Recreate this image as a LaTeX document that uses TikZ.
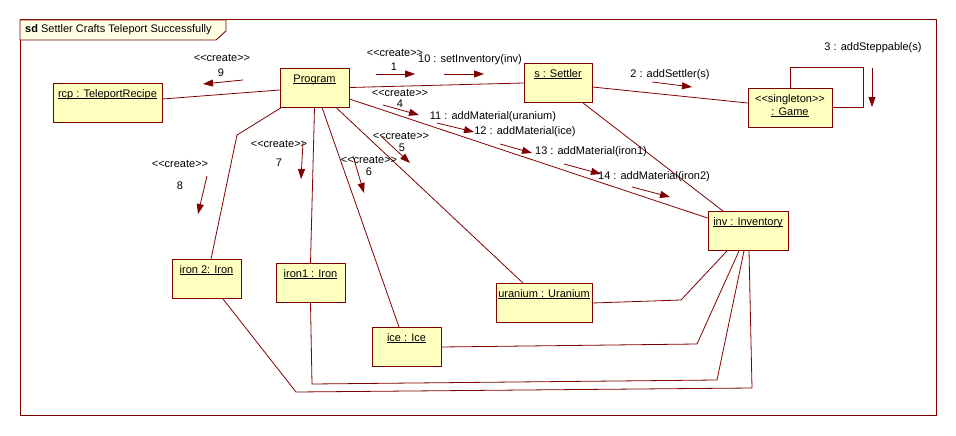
\documentclass[tikz,border=0pt]{standalone}
\usepackage{fontspec}
\setmainfont{Liberation Sans}
\usetikzlibrary{arrows.meta}
\definecolor{umlred}{RGB}{128,0,0}
\definecolor{umlfill}{RGB}{255,255,192}
\definecolor{tabfill}{RGB}{255,255,228}
\newcommand{\objname}[1]{\setbox0\hbox{#1}\rlap{#1}\rule[-1.6pt]{\wd0}{0.7pt}}
\newcommand{\stereo}[1]{{<}{<}#1{>}{>}}

\begin{document}
\begin{tikzpicture}[x=1pt, y=-1pt, font=\fontsize{11}{13}\selectfont,
  obj/.style={draw=umlred, fill=umlfill, line width=0.9pt, minimum height=39pt, inner sep=0pt, text height=14pt, text depth=25pt, align=center},
  link/.style={draw=umlred, line width=0.8pt},
  msg/.style={draw=umlred, line width=0.8pt, -{Triangle[length=10pt, width=7pt]}},
  lbl/.style={inner sep=0pt}]
\useasboundingbox (0,0) rectangle (956,436);
% frame
\draw[umlred, line width=1pt] (20,20) rectangle (936,415);
\draw[umlred, fill=tabfill, line width=0.9pt] (20,20) -- (226,20) -- (226,31) -- (216,40) -- (20,40) -- cycle;
\node[lbl, anchor=west] (title) at (25,30) {\textbf{sd} Settler Crafts Teleport Successfully};

% objects
\node[obj, minimum width=109pt] (rcp) at (107.5,103) {\objname{rcp : TeleportRecipe}};
\node[obj, minimum width=69pt] (prog) at (314.5,87.5) {\objname{Program}};
\node[obj, minimum width=68pt] (settler) at (558,83) {\objname{s : Settler}};
\node[obj, minimum width=84pt, text height=27pt, text depth=12pt] (game) at (790,107.5) {\stereo{singleton}\\\objname{: Game}};
\node[obj, minimum width=80pt] (inv) at (748,231) {\objname{inv : Inventory}};
\node[obj, minimum width=96pt] (uranium) at (544,303) {\objname{uranium : Uranium}};
\node[obj, minimum width=69pt] (ice) at (406.5,347) {\objname{ice : Ice}};
\node[obj, minimum width=69pt] (iron1) at (310.5,283) {\objname{iron1 : Iron}};
\node[obj, minimum width=69pt] (iron2) at (206.5,279) {\objname{iron 2: Iron}};

% links
\draw[link] ([yshift=4pt]rcp.east) -- ([yshift=-2.5pt]prog.west);
\draw[link] (prog.east) -- (settler.west);
\draw[link] ([yshift=-4pt]settler.east) -- ([yshift=4.5pt]game.west);
\draw[link] (game.north) -- ++(0,-20) -- ++(73,0) |- (game.east);
\draw[link] ([xshift=25pt]settler.south) -- ([xshift=-25pt]inv.north);
\draw[link] ([yshift=-11.5pt]prog.east) -- ([yshift=13pt]inv.west);
\draw[link] ([xshift=21.5pt]prog.south) -- ([xshift=-21pt]uranium.north);
\draw[link] ([xshift=7.5pt]prog.south) -- ([xshift=-7.5pt]ice.north);
\draw[link] (prog.south) -- (iron1.north);
\draw[link] ([xshift=2pt]prog.south west) -- (237,135) -- ([xshift=4.5pt]iron2.north);
\draw[link] (uranium.east) -- (681,300) -- ([xshift=-21pt]inv.south);
\draw[link] (ice.east) -- (697,344) -- ([xshift=-9pt]inv.south);
\draw[link] (iron1.south) -- (312,384) -- (717,380) -- ([xshift=-4pt]inv.south);
\draw[link] ([xshift=16.5pt]iron2.south) -- (296,392) -- (752,388) -- ([xshift=1pt]inv.south);

% messages
\node[lbl] (cr1) at (395,53) {\stereo{create}};
\node[lbl] (n1) at (394,67) {1};
\draw[msg] (376,74) -- (415,74);
\node[lbl] (m10) at (470,60) {10 : setInventory(inv)};
\draw[msg] (444,74) -- (484,74);
\node[lbl] (m2) at (670,75) {2 : addSettler(s)};
\draw[msg] (652,82) -- (692,87);
\node[lbl] (m3) at (873,48) {3 : addSteppable(s)};
\draw[msg] (872,68) -- (872,107);
\node[lbl] (cr4) at (400,93) {\stereo{create}};
\node[lbl] (n4) at (400,104) {4};
\draw[msg] (383,105) -- (419,115);
\node[lbl] (m11) at (493,117) {11 : addMaterial(uranium)};
\draw[msg] (437,123) -- (474,132);
\node[lbl] (m12) at (525,132) {12 : addMaterial(ice)};
\draw[msg] (500,144) -- (532,153);
\node[lbl] (m13) at (591,152) {13 : addMaterial(iron1)};
\draw[msg] (564,164) -- (601,174);
\node[lbl] (m14) at (654,177) {14 : addMaterial(iron2)};
\draw[msg] (632,187) -- (670,197);
\node[lbl] (cr5) at (401,136) {\stereo{create}};
\node[lbl] (n5) at (402,148) {5};
\draw[msg] (382,137) -- (410,163);
\node[lbl] (cr6) at (369,160) {\stereo{create}};
\node[lbl] (n6) at (369,172) {6};
\draw[msg] (353,156) -- (364,193);
\node[lbl] (cr7) at (279,144) {\stereo{create}};
\node[lbl] (n7) at (279,163) {7};
\draw[msg] (303,142) -- (301,179);
\node[lbl] (cr8) at (180,164) {\stereo{create}};
\node[lbl] (n8) at (180,186) {8};
\draw[msg] (207,176) -- (198,214);
\node[lbl] (cr9) at (222,58) {\stereo{create}};
\node[lbl] (n9) at (221,73) {9};
\draw[msg] (243,80) -- (203,84);
\end{tikzpicture}
\end{document}
